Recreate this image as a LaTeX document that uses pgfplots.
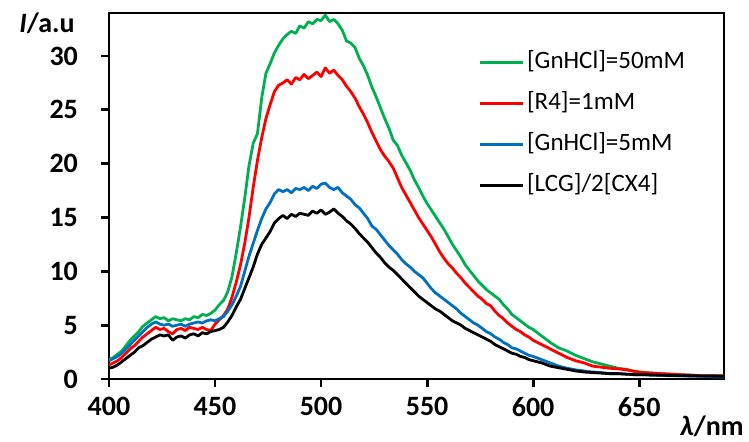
\documentclass[border=0pt]{standalone}
\usepackage{pgfplots}
\pgfplotsset{compat=1.18}
\usepackage{pgfplotstable}
\usepackage{fontspec}
\setmainfont{Carlito}
\definecolor{cgreen}{HTML}{00B050}
\definecolor{cred}{HTML}{FF0000}
\definecolor{cblue}{HTML}{0070C0}

\pgfplotstableread{
x y
400 1.8
402 2.0
404 2.3
406 2.6
408 3.1
410 3.6
412 4.0
414 4.4
416 4.9
418 5.2
420 5.5
422 5.8
424 5.6
426 5.7
428 5.4
430 5.6
432 5.5
434 5.4
436 5.6
438 5.5
440 5.8
442 5.7
444 6.0
446 5.9
448 6.1
450 6.4
452 6.9
454 7.3
456 8.1
458 9.5
460 11.7
462 14.1
464 16.8
466 19.8
468 21.9
470 22.8
472 26.1
474 28.4
476 29.3
478 30.3
480 31.0
482 31.6
484 32.0
486 32.3
488 32.1
490 32.8
492 32.6
494 33.2
496 33.0
498 33.4
500 33.3
502 33.8
504 33.2
506 33.4
508 33.0
510 32.4
512 31.4
514 31.2
516 30.8
518 29.8
520 29.1
522 28.2
524 27.1
526 26.2
528 25.2
530 24.2
532 23.3
534 22.2
536 21.7
538 20.8
540 20.1
542 19.4
544 18.5
546 17.8
548 17.0
550 16.3
552 15.7
554 15.1
556 14.5
558 13.9
560 13.2
562 12.5
564 11.9
566 11.3
568 10.6
570 10.1
572 9.6
574 9.1
576 8.7
578 8.3
580 8.0
582 7.7
584 7.4
586 6.9
588 6.5
590 6.0
592 5.7
594 5.4
596 5.1
598 4.8
600 4.6
604 4.0
608 3.4
612 2.9
616 2.6
620 2.2
624 1.9
628 1.6
632 1.4
636 1.2
640 1.0
644 0.9
648 0.7
652 0.6
656 0.55
660 0.5
665 0.45
670 0.4
675 0.35
680 0.3
685 0.3
690 0.3
}\green

\pgfplotstableread{
x y
400 1.3
402 1.5
404 1.7
406 2.0
408 2.4
410 2.8
412 3.1
414 3.5
416 3.9
418 4.2
420 4.5
422 4.8
424 4.6
426 4.7
428 4.4
430 4.2
432 4.6
434 4.7
436 4.5
438 4.8
440 4.7
442 4.6
444 4.8
446 4.6
448 4.5
450 5.1
452 5.5
454 5.9
456 6.5
458 7.6
460 9.0
462 10.6
464 12.6
466 15.0
468 17.8
470 20.3
472 22.4
474 24.2
476 25.5
478 26.7
480 27.3
482 27.5
484 27.8
486 27.4
488 28.0
490 27.8
492 28.3
494 27.9
496 28.2
498 28.5
500 28.1
502 28.9
504 28.4
506 28.7
508 28.2
510 27.8
512 27.2
514 26.7
516 26.1
518 25.3
520 24.6
522 23.8
524 22.9
526 22.1
528 21.3
530 20.7
532 20.2
534 19.6
536 18.7
538 17.8
540 17.1
542 16.4
544 15.7
546 15.0
548 14.4
550 13.8
552 13.2
554 12.5
556 11.8
558 11.2
560 10.7
562 10.3
564 9.8
566 9.4
568 8.9
570 8.5
572 8.1
574 7.7
576 7.4
578 7.0
580 6.8
582 6.3
584 5.9
586 5.6
588 5.2
590 4.9
592 4.6
594 4.4
596 4.1
598 3.9
600 3.6
604 3.2
608 2.8
612 2.4
616 2.0
620 1.7
624 1.5
628 1.2
632 1.1
636 1.0
640 0.95
644 0.85
648 0.7
652 0.6
656 0.55
660 0.5
665 0.45
670 0.4
675 0.35
680 0.3
685 0.3
690 0.3
}\red

\pgfplotstableread{
x y
400 1.7
402 1.9
404 2.1
406 2.4
408 2.8
410 3.2
412 3.6
414 4.0
416 4.4
418 4.8
420 5.1
422 5.3
424 5.1
426 5.0
428 5.1
430 4.9
432 5.0
434 5.1
436 4.9
438 5.1
440 5.2
442 5.3
444 5.2
446 5.4
448 5.5
450 5.4
452 5.6
454 5.8
456 6.3
458 6.9
460 7.7
462 8.6
464 10.0
466 11.4
468 12.6
470 13.8
472 14.9
474 15.8
476 16.4
478 17.2
480 17.6
482 17.4
484 17.6
486 17.3
488 17.7
490 17.6
492 17.8
494 17.5
496 17.9
498 17.7
500 18.1
502 18.2
504 17.8
506 17.6
508 17.8
510 17.3
512 17.0
514 16.7
516 16.2
518 15.9
520 15.4
522 14.9
524 14.2
526 13.9
528 13.4
530 12.9
532 12.4
534 12.0
536 11.6
538 11.1
540 10.7
542 10.4
544 10.0
546 9.7
548 9.4
550 8.9
552 8.4
554 8.0
556 7.7
558 7.4
560 7.1
562 6.8
564 6.5
566 6.1
568 5.8
570 5.5
572 5.2
574 5.0
576 4.7
578 4.4
580 4.2
582 3.9
584 3.7
586 3.4
588 3.2
590 2.9
592 2.8
594 2.6
596 2.4
598 2.2
600 2.1
604 1.8
608 1.5
612 1.2
616 1.0
620 0.85
624 0.75
628 0.65
632 0.6
636 0.5
640 0.5
644 0.45
648 0.4
652 0.4
656 0.35
660 0.35
665 0.3
670 0.3
675 0.25
680 0.25
685 0.2
690 0.2
}\blue

\pgfplotstableread{
x y
400 1.0
402 1.1
404 1.3
406 1.6
408 1.9
410 2.2
412 2.5
414 2.9
416 3.1
418 3.4
420 3.7
422 3.9
424 4.1
426 4.0
428 4.1
430 3.6
432 3.9
434 4.0
436 3.8
438 4.1
440 4.2
442 4.0
444 4.3
446 4.2
448 4.4
450 4.5
452 4.6
454 4.8
456 5.3
458 5.9
460 6.7
462 7.4
464 8.4
466 9.4
468 10.4
470 11.6
472 12.5
474 13.1
476 13.7
478 14.5
480 14.9
482 15.2
484 14.9
486 15.3
488 15.1
490 15.4
492 15.3
494 15.2
496 15.6
498 15.4
500 15.7
502 15.3
504 15.5
506 15.8
508 15.4
510 15.1
512 14.7
514 14.4
516 14.0
518 13.5
520 13.1
522 12.7
524 12.2
526 11.7
528 11.3
530 10.8
532 10.4
534 10.1
536 9.7
538 9.3
540 8.9
542 8.5
544 8.1
546 7.7
548 7.4
550 7.1
552 6.8
554 6.5
556 6.3
558 6.0
560 5.7
562 5.4
564 5.2
566 5.0
568 4.7
570 4.5
572 4.3
574 4.1
576 3.9
578 3.7
580 3.5
582 3.2
584 3.0
586 2.8
588 2.6
590 2.4
592 2.3
594 2.1
596 2.0
598 1.8
600 1.7
604 1.5
608 1.2
612 1.05
616 0.9
620 0.75
624 0.65
628 0.6
632 0.55
636 0.5
640 0.5
644 0.45
648 0.4
652 0.4
656 0.38
660 0.35
665 0.33
670 0.3
675 0.3
680 0.28
685 0.27
690 0.25
}\black

\begin{document}
\begin{tikzpicture}
\useasboundingbox (-54.5pt,-31pt) rectangle (320pt,189.5pt);
\begin{axis}[
  scale only axis,
  width=307.5pt, height=183pt,
  xmin=400, xmax=690, ymin=0, ymax=34,
  xtick={400,450,...,650},
  ytick={0,5,...,30},
  axis line style={line width=1.4pt},
  tick style={line width=1.4pt, black},
  tick align=outside,
  major tick length=4pt,
  xtick pos=bottom, ytick pos=left,
  /pgf/number format/assume math mode=true,
  ticklabel style={font=\fontsize{14}{16}\selectfont\bfseries},
  xticklabel style={yshift=-1.5pt},
  yticklabel style={xshift=-8pt},
  legend cell align=left,
  legend style={draw=none, fill=none, at={(rel axis cs:0.59,0.92)}, anchor=north west,
    font=\fontsize{12.5}{14}\selectfont, row sep=5pt,
    nodes={text height=9.5pt, text depth=3pt, inner sep=1.5pt}},
  legend image code/.code={\draw[#1, line width=1.4pt] (0pt,0pt) -- (21.5pt,0pt);},
  every axis plot/.append style={line width=1.4pt, line join=round},
  clip mode=individual,
]
\addplot[cgreen] table[x=x,y=y] {\green};
\addlegendentry{[GnHCl]=50mM}
\addplot[cred] table[x=x,y=y] {\red};
\addlegendentry{[R4]=1mM}
\addplot[cblue] table[x=x,y=y] {\blue};
\addlegendentry{[GnHCl]=5mM}
\addplot[black] table[x=x,y=y] {\black};
\addlegendentry{[LCG]/2[CX4]}
\node[anchor=east, font=\fontsize{14}{16}\selectfont\bfseries, inner sep=0pt] at (rel axis cs:0,1) [xshift=-17pt, yshift=-5pt] {\textit{I}/a.u};
\node[anchor=east, font=\fontsize{14}{16}\selectfont\bfseries, inner sep=0pt] at (rel axis cs:1,0) [xshift=10pt, yshift=-23.5pt] {\textit{λ}/nm};
\end{axis}
\end{tikzpicture}
\end{document}
